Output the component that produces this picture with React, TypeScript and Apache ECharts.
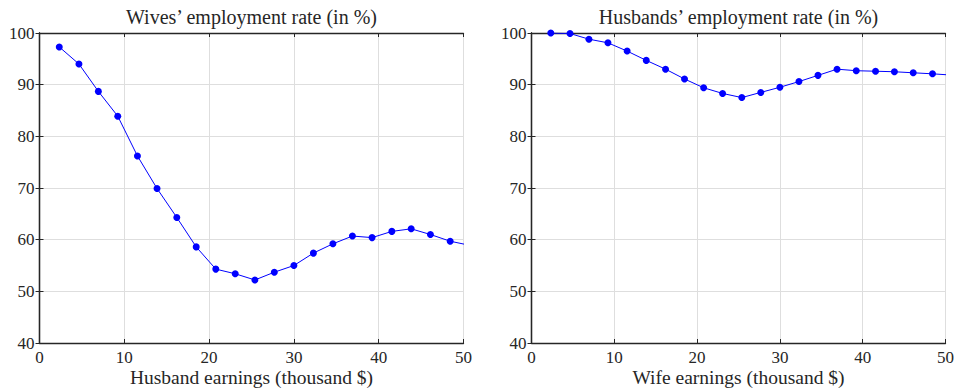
import React, { useEffect, useRef } from "react";
import * as echarts from "echarts";

// Earnings bins (thousand $) shared by both panels
const earnings = [2.33, 4.65, 6.94, 9.23, 11.55, 13.86, 16.19, 18.48, 20.79, 23.08, 25.4, 27.69, 30.0, 32.3, 34.6, 36.9, 39.22, 41.55, 43.83, 46.1, 48.43, 50.75];

// Wives' employment rate (%) by husband earnings
const wivesRate = [97.3, 94.0, 88.7, 83.9, 76.2, 69.9, 64.3, 58.6, 54.3, 53.4, 52.2, 53.7, 55.0, 57.4, 59.2, 60.7, 60.4, 61.6, 62.1, 61.0, 59.7, 58.9];

// Husbands' employment rate (%) by wife earnings
const husbandsRate = [100.0, 99.9, 98.8, 98.1, 96.5, 94.7, 93.0, 91.1, 89.4, 88.3, 87.5, 88.5, 89.5, 90.6, 91.8, 93.0, 92.7, 92.6, 92.5, 92.3, 92.1, 91.85];

const xTicks = [0, 10, 20, 30, 40, 50];
const yTicks = [40, 50, 60, 70, 80, 90, 100];

const titles = ["Wives’ employment rate (in %)", "Husbands’ employment rate (in %)"];
const xLabels = ["Husband earnings (thousand $)", "Wife earnings (thousand $)"];

const FONT = "'Liberation Serif', 'DejaVu Serif', serif";
const INK = "#262626";

export default function App() {
  const ref = useRef<HTMLDivElement>(null);

  useEffect(() => {
    if (!ref.current) return;
    const chart = echarts.init(ref.current, undefined, { renderer: "svg" });

    // Fixed plot boxes; outer bounds are not auto-fitted so the boxes stay put
    const grids = [
      { left: 39.5, top: 33, width: 424, height: 310, outerBoundsMode: "none", containLabel: false },
      { left: 531.5, top: 33, width: 414, height: 310, outerBoundsMode: "none", containLabel: false },
    ];

    const xAxes: any[] = [];
    const yAxes: any[] = [];
    grids.forEach((_, g) => {
      const base = {
        gridIndex: g,
        type: "value",
        min: xTicks[0],
        max: xTicks[xTicks.length - 1],
        interval: 10,
        axisLine: { show: true, lineStyle: { color: INK, width: 1.3 } },
        axisTick: { show: true, inside: true, length: 4, lineStyle: { color: INK, width: 1 } },
      };
      xAxes.push({
        ...base,
        position: "bottom",
        axisLabel: { show: true, fontFamily: FONT, fontSize: 17, color: INK, margin: 6 },
        splitLine: { show: true, lineStyle: { color: "#dedede", width: 1 } },
      });
      xAxes.push({
        ...base,
        position: "top",
        axisLabel: { show: false },
        splitLine: { show: false },
      });
      const ybase = {
        gridIndex: g,
        type: "value",
        min: yTicks[0],
        max: yTicks[yTicks.length - 1],
        interval: 10,
        axisLine: { show: true, lineStyle: { color: INK, width: 1.3 } },
        axisTick: { show: true, inside: true, length: 4, lineStyle: { color: INK, width: 1 } },
      };
      yAxes.push({
        ...ybase,
        position: "left",
        axisLabel: { show: true, fontFamily: FONT, fontSize: 17, color: INK, margin: 5 },
        splitLine: { show: true, lineStyle: { color: "#dedede", width: 1 } },
      });
      yAxes.push({
        ...ybase,
        position: "right",
        axisLabel: { show: false },
        splitLine: { show: false },
      });
    });

    const makeSeries = (vals: number[], g: number) => ({
      type: "line",
      xAxisIndex: g * 2,
      yAxisIndex: g * 2,
      data: earnings.map((x, i) => [x, vals[i]]),
      symbol: "circle",
      symbolSize: 7,
      showSymbol: true,
      clip: true,
      lineStyle: { color: "#0000ff", width: 1 },
      itemStyle: { color: "#0000ff" },
    });

    // Panel titles above each box and axis titles below each box
    const panelTexts: any[] = [];
    grids.forEach((gr, g) => {
      const cx = gr.left + gr.width / 2;
      panelTexts.push({
        type: "text",
        x: cx,
        y: 16.5,
        style: {
          text: titles[g],
          fontFamily: FONT,
          fontSize: 20,
          fill: INK,
          textAlign: "center",
          textVerticalAlign: "middle",
        },
      });
      panelTexts.push({
        type: "text",
        x: cx,
        y: 377.5,
        style: {
          text: xLabels[g],
          fontFamily: FONT,
          fontSize: 19.5,
          fill: INK,
          textAlign: "center",
          textVerticalAlign: "middle",
        },
      });
    });

    chart.setOption({
      animation: false,
      backgroundColor: "#ffffff",
      grid: grids,
      xAxis: xAxes,
      yAxis: yAxes,
      series: [makeSeries(wivesRate, 0), makeSeries(husbandsRate, 1)],
      graphic: panelTexts,
    });

    return () => chart.dispose();
  }, []);

  return (
    <div
      ref={ref}
      style={{ position: "fixed", left: 0, top: 0, width: 954, height: 389, background: "#fff" }}
    />
  );
}
